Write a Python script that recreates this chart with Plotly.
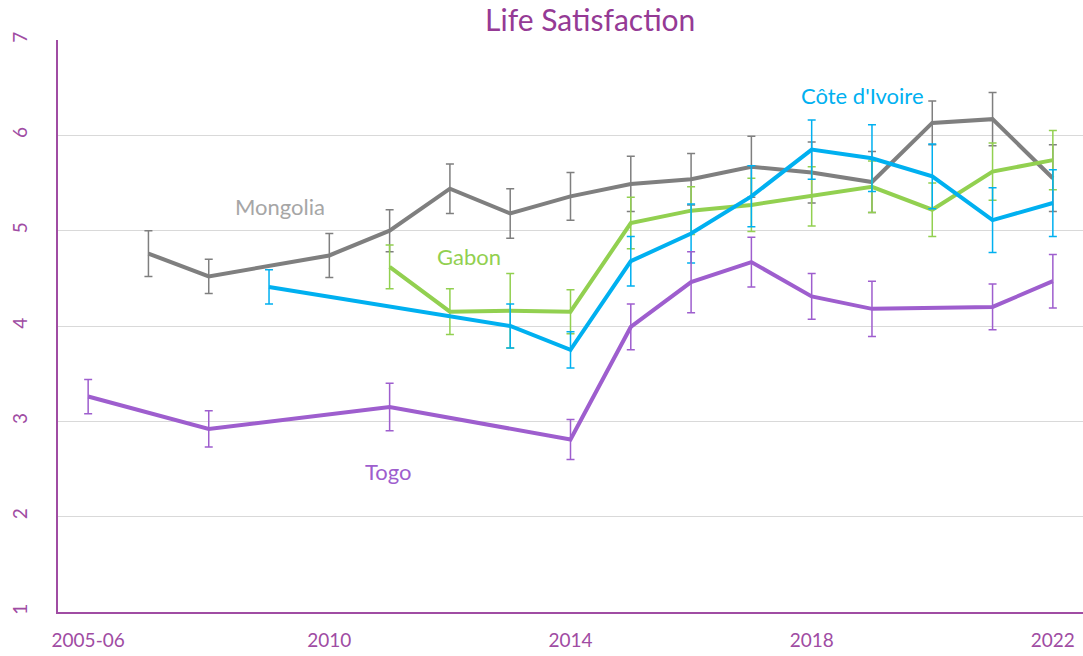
import plotly.graph_objects as go

categories = ["2005-06", "2007", "2008", "2009", "2010", "2011", "2012", "2013", "2014",
              "2015", "2016", "2017", "2018", "2019", "2020", "2021", "2022"]

mongolia = [None, 4.76, 4.52, None, 4.74, 5.00, 5.44, 5.18, 5.36, 5.49, 5.54, 5.67, 5.61, 5.51, 6.13, 6.17, 5.55]
mongolia_err = [0, 0.24, 0.18, 0, 0.23, 0.22, 0.26, 0.26, 0.25, 0.29, 0.27, 0.32, 0.32, 0.32, 0.23, 0.28, 0.35]

cote = [None, None, None, 4.41, None, None, None, 4.00, 3.75, 4.68, 4.97, 5.36, 5.85, 5.76, 5.57, 5.11, 5.29]
cote_err = [0, 0, 0, 0.18, 0, 0, 0, 0.23, 0.19, 0.26, 0.31, 0.32, 0.31, 0.35, 0.34, 0.34, 0.35]

gabon = [None, None, None, None, None, 4.62, 4.15, 4.16, 4.15, 5.08, 5.21, 5.27, 5.36, 5.46, 5.22, 5.62, 5.74]
gabon_err = [0, 0, 0, 0, 0, 0.23, 0.24, 0.39, 0.23, 0.27, 0.25, 0.28, 0.31, 0.27, 0.28, 0.30, 0.31]

togo = [3.26, None, 2.92, None, None, 3.15, None, None, 2.81, 3.99, 4.46, 4.67, 4.31, 4.18, None, 4.20, 4.47]
togo_err = [0.18, 0, 0.19, 0, 0, 0.25, 0, 0, 0.21, 0.24, 0.32, 0.26, 0.24, 0.29, 0, 0.24, 0.28]

tick_labels = ["2005-06", "2010", "2014", "2018", "2022"]
y_ticks = [1, 2, 3, 4, 5, 6, 7]

PURPLE_AX = "#A04CA3"
FONT = "Lato, Open Sans, sans-serif"
xs = list(range(len(categories)))
tick_pos = [categories.index(t) for t in tick_labels]

series = [
    ("Mongolia", mongolia, mongolia_err, "#7F7F7F"),
    ("Gabon", gabon, gabon_err, "#92D050"),
    ("Côte d'Ivoire", cote, cote_err, "#00B0F0"),
    ("Togo", togo, togo_err, "#9E5ECE"),
]

fig = go.Figure()
for name, vals, errs, col in series:
    fig.add_trace(go.Scatter(
        x=xs, y=vals, mode="lines", name=name, connectgaps=True,
        line=dict(color=col, width=4),
        error_y=dict(type="data", array=errs, visible=True, color=col, thickness=1.5, width=4),
        showlegend=False,
    ))

labels = [
    ("Mongolia", 3.18, 5.25, "#A6A6A6"),
    ("Gabon", 6.32, 4.73, "#92D050"),
    ("Côte d'Ivoire", 12.85, 6.42, "#00B0F0"),
    ("Togo", 4.97, 2.47, "#9E5ECE"),
]
for text, xi, yi, col in labels:
    fig.add_annotation(x=xi, y=yi, xref="x", yref="y", text=text, showarrow=False,
                       font=dict(family=FONT, size=22, color=col))

fig.update_layout(
    width=1083, height=656,
    margin=dict(l=58, r=0, t=40, b=44),
    paper_bgcolor="white", plot_bgcolor="white",
    title=dict(text="Life Satisfaction", x=0.545, xanchor="center", y=0.968, yanchor="middle",
               font=dict(family=FONT, size=30, color="#953A95")),
    xaxis=dict(range=[-0.5, 16.5], tickvals=tick_pos, ticktext=tick_labels,
               showgrid=False, zeroline=False, showline=True, linecolor=PURPLE_AX, linewidth=1.5,
               ticks="", ticklabelstandoff=10,
               tickfont=dict(family=FONT, size=19, color=PURPLE_AX)),
    yaxis=dict(range=[1, 7], tickvals=y_ticks, showgrid=True, gridcolor="#D9D9D9", gridwidth=1,
               zeroline=False, showline=True, linecolor=PURPLE_AX, linewidth=1.5, ticks="",
               tickangle=-90, ticklabelstandoff=22,
               tickfont=dict(family=FONT, size=19, color=PURPLE_AX)),
)

fig.write_html("out.html", config={"displayModeBar": False},
               post_script="document.body.style.margin='0';document.body.style.overflow='hidden';")
